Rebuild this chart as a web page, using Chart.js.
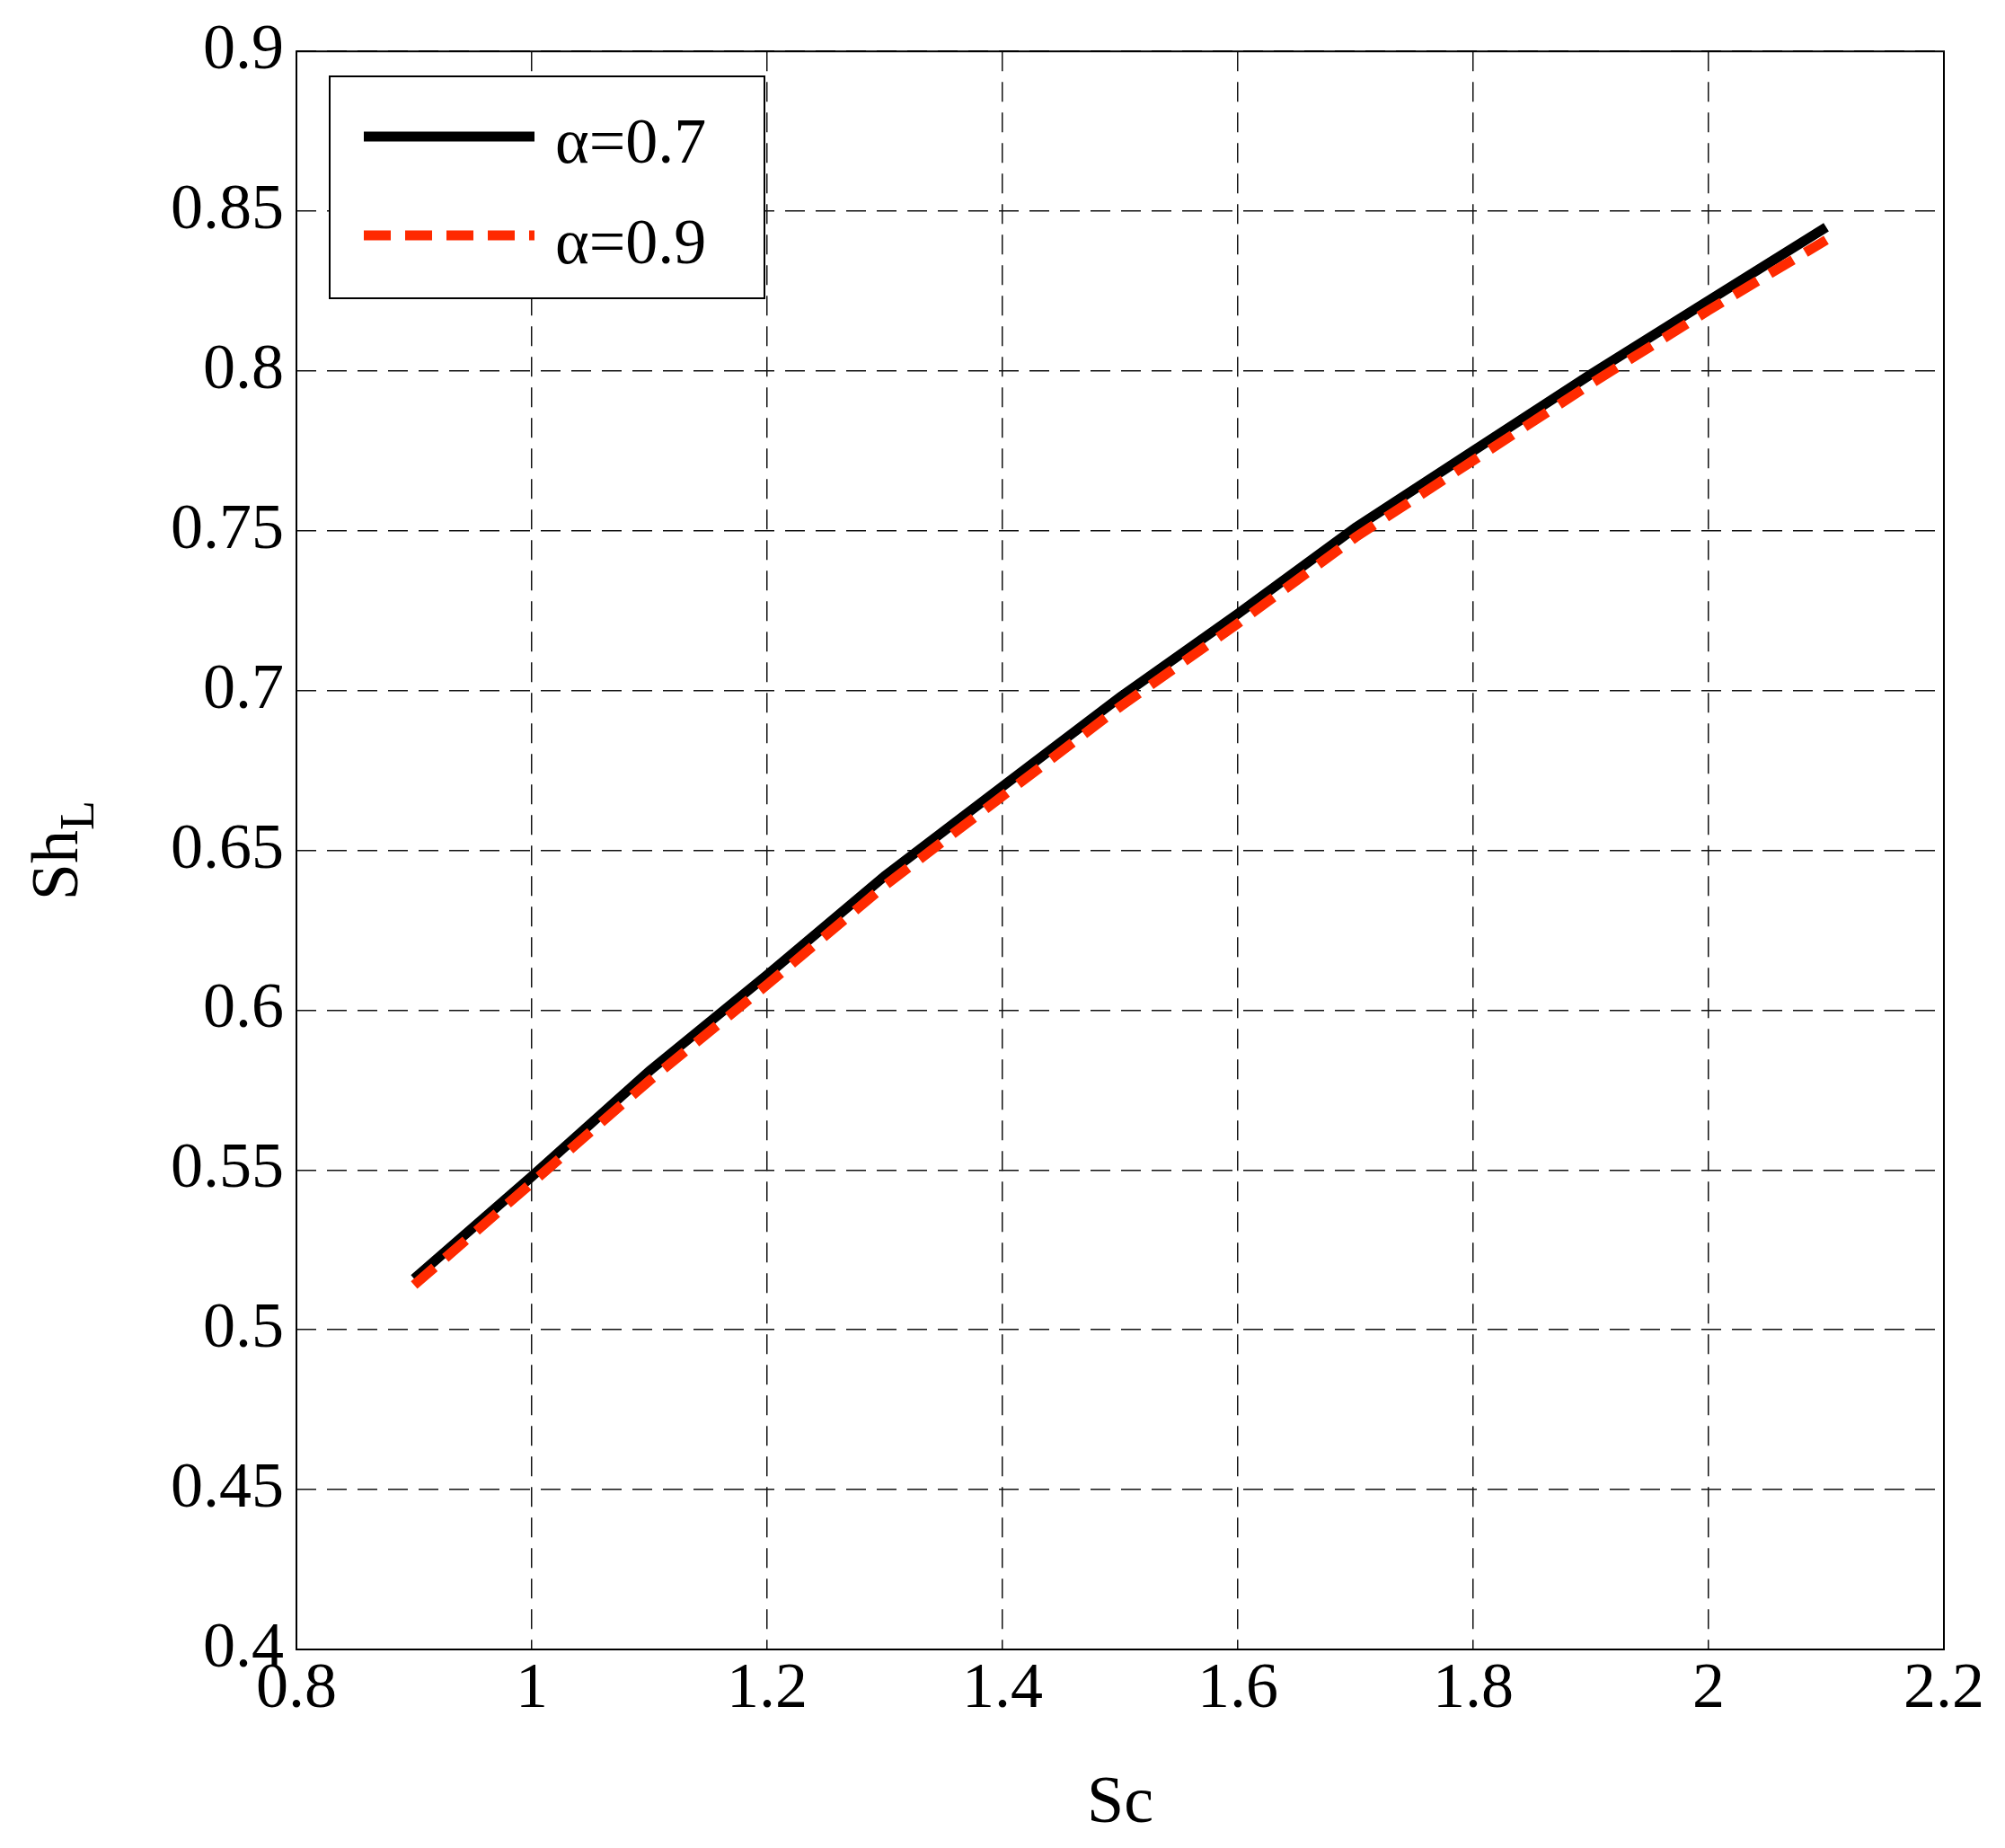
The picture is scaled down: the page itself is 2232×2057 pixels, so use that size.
<!DOCTYPE html>
<html><head><meta charset="utf-8">
<script src="https://cdn.jsdelivr.net/npm/chart.js@4/dist/chart.umd.min.js"></script>
<style>html,body{margin:0;padding:0;background:#fff}#w{width:2232px;height:2057px}</style>
</head><body><div id="w"><canvas id="c"></canvas></div>
<script>
const scValues = [0.9,1.0,1.1,1.2,1.3,1.4,1.5,1.6,1.7,1.8,1.9,2.0,2.1];
const shAlpha07 = [0.516,0.548,0.581,0.611,0.642,0.670,0.698,0.724,0.751,0.775,0.799,0.822,0.845];
const shAlpha09 = [0.514,0.546,0.578,0.608,0.639,0.667,0.695,0.721,0.748,0.772,0.796,0.819,0.841];
const seriesLabels = ['α=0.7','α=0.9'];
const FONT = "Liberation Serif";

const deco = {
  id:'deco',
  afterDraw(ch){
    const {ctx, chartArea:a} = ch;
    ctx.save();
    ctx.strokeStyle='#000'; ctx.lineWidth=2;
    ctx.strokeRect(a.left,a.top,a.right-a.left,a.bottom-a.top);
    ctx.fillStyle='#000';
    ctx.translate(62,(a.top+a.bottom)/2);
    ctx.rotate(-Math.PI/2);
    ctx.font="74px "+FONT; ctx.textBaseline='alphabetic';
    const w1=ctx.measureText('Sh').width;
    ctx.font="54px "+FONT;
    const w2=ctx.measureText('L').width;
    const x0=-(w1+w2)/2;
    ctx.font="74px "+FONT; ctx.fillText('Sh',x0,24);
    ctx.font="54px "+FONT; ctx.fillText('L',x0+w1,42);
    ctx.restore();
    ctx.save();
    const lx=367, ly=85, lw=484, lh=247;
    ctx.fillStyle='#fff'; ctx.fillRect(lx,ly,lw,lh);
    ctx.strokeStyle='#000'; ctx.lineWidth=2; ctx.strokeRect(lx,ly,lw,lh);
    ctx.lineWidth=11;
    ctx.strokeStyle='#000'; ctx.setLineDash([]);
    ctx.beginPath(); ctx.moveTo(405,152); ctx.lineTo(595,152); ctx.stroke();
    ctx.strokeStyle='#ff2a00'; ctx.setLineDash([30,16]);
    ctx.beginPath(); ctx.moveTo(405,262); ctx.lineTo(595,262); ctx.stroke();
    ctx.setLineDash([]);
    ctx.fillStyle='#000'; ctx.font="72px "+FONT; ctx.textBaseline='middle';
    ctx.fillText(seriesLabels[0],618,162);
    ctx.fillText(seriesLabels[1],618,274);
    ctx.restore();
  }
};

new Chart(document.getElementById('c'),{
  type:'line',
  data:{datasets:[
    {label:seriesLabels[0],data:scValues.map((x,i)=>({x,y:shAlpha07[i]})),borderColor:'#000',borderWidth:11,pointRadius:0,tension:0,order:2},
    {label:seriesLabels[1],data:scValues.map((x,i)=>({x,y:shAlpha09[i]})),borderColor:'#ff2a00',borderWidth:11,borderDash:[30,16],pointRadius:0,tension:0,order:1}
  ]},
  options:{
    responsive:true,maintainAspectRatio:false,animation:false,
    layout:{padding:{top:46,right:68,left:0,bottom:0}},
    plugins:{legend:{display:false},tooltip:{enabled:false}},
    scales:{
      x:{type:'linear',min:0.8,max:2.2,
        ticks:{stepSize:0.2,color:'#000',font:{family:FONT,size:72},padding:2,maxRotation:0,
          callback:v=>String(Math.round(v*10)/10)},
        grid:{color:'#111',lineWidth:1.5,drawTicks:false},
        border:{display:false,dash:[22,12]},
        title:{display:true,text:'Sc',color:'#000',font:{family:FONT,size:74},padding:{top:0}},
        afterFit(s){s.height=221;}
      },
      y:{min:0.4,max:0.9,
        ticks:{stepSize:0.05,color:'#000',font:{family:FONT,size:72},padding:14,
          callback:v=>String(Math.round(v*100)/100)},
        grid:{color:'#111',lineWidth:1.5,drawTicks:false},
        border:{display:false,dash:[22,12]},
        afterFit(s){s.width=330;}
      }
    }
  },
  plugins:[deco]
});
</script></body></html>
